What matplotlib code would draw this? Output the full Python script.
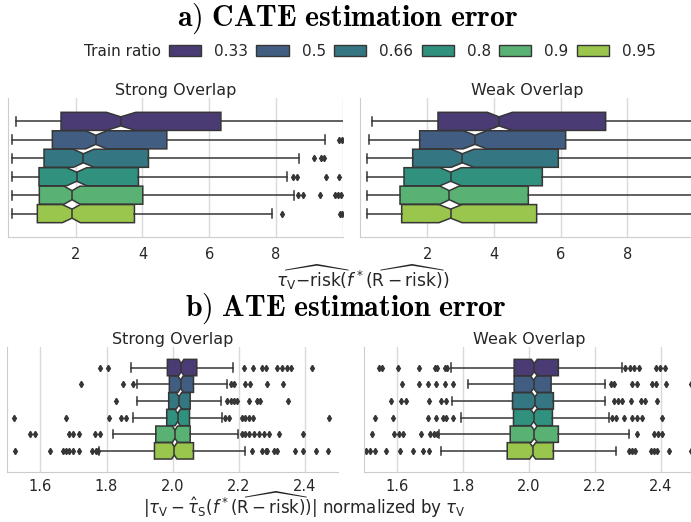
import matplotlib
matplotlib.use("Agg")
import matplotlib.pyplot as plt
from matplotlib.patches import Patch
import seaborn as sns

ratios = ["0.33", "0.5", "0.66", "0.8", "0.9", "0.95"]

# a) CATE error, strong overlap
cate_s_q1 = [1.56, 1.30, 1.05, 0.90, 0.91, 0.85]
cate_s_med = [3.35, 2.60, 2.23, 2.03, 1.89, 1.89]
cate_s_q3 = [6.35, 4.73, 4.18, 3.88, 4.01, 3.76]
cate_s_lo = [0.20, 0.10, 0.10, 0.10, 0.10, 0.08]
cate_s_hi = [12.5, 9.46, 8.70, 8.33, 8.53, 7.88]
cate_s_cilo = [2.92, 2.30, 1.93, 1.73, 1.65, 1.60]
cate_s_cihi = [3.80, 2.93, 2.55, 2.33, 2.13, 2.14]
cate_s_fliers = [[], [9.90, 9.98], [9.15, 9.35, 9.43],
                 [8.51, 8.63, 9.51, 9.88], [8.67, 8.82, 9.33, 9.76, 9.86, 9.96],
                 [8.18, 9.91, 9.98]]

# a) CATE error, weak overlap
cate_w_q1 = [2.32, 1.77, 1.56, 1.30, 1.18, 1.23]
cate_w_med = [4.15, 3.43, 3.05, 2.70, 2.66, 2.70]
cate_w_q3 = [7.35, 6.15, 5.93, 5.45, 5.03, 5.28]
cate_w_lo = [0.33, 0.25, 0.18, 0.18, 0.18, 0.18]
cate_w_hi = [13.5, 12.8, 12.5, 12.0, 11.5, 12.0]
cate_w_cilo = [3.80, 3.08, 2.72, 2.38, 2.38, 2.35]
cate_w_cihi = [4.55, 3.78, 3.40, 3.02, 2.95, 3.04]
cate_w_fliers = [[], [], [], [], [], []]

# b) ATE error, strong overlap
ate_s_q1 = [1.984, 1.990, 1.988, 1.982, 1.949, 1.945]
ate_s_med = [2.026, 2.024, 2.019, 2.015, 2.007, 2.005]
ate_s_q3 = [2.073, 2.063, 2.053, 2.051, 2.053, 2.063]
ate_s_lo = [1.875, 1.893, 1.892, 1.880, 1.819, 1.777]
ate_s_hi = [2.183, 2.164, 2.146, 2.150, 2.197, 2.220]
ate_s_cilo = [2.018, 2.016, 2.011, 2.007, 1.999, 1.997]
ate_s_cihi = [2.034, 2.032, 2.027, 2.023, 2.015, 2.013]
ate_s_fliers = [
    [1.779, 1.804, 2.215, 2.243, 2.271, 2.283, 2.317, 2.332, 2.347, 2.357, 2.420],
    [1.723, 1.850, 1.880, 2.175, 2.185, 2.220, 2.233, 2.286, 2.335],
    [1.828, 2.164, 2.175, 2.185, 2.195, 2.230, 2.256, 2.264, 2.349],
    [1.520, 1.677, 1.809, 1.845, 1.860, 2.159, 2.169, 2.210, 2.220, 2.230,
     2.243, 2.474],
    [1.568, 1.584, 1.688, 1.700, 1.718, 1.764, 1.779, 2.210, 2.220, 2.230,
     2.246, 2.261, 2.276, 2.291, 2.322, 2.393],
    [1.522, 1.629, 1.667, 1.677, 1.688, 1.698, 1.718, 1.756, 1.768, 1.774,
     2.240, 2.271, 2.281, 2.286, 2.306, 2.317, 2.369, 2.393, 2.433, 2.471],
]

# b) ATE error, weak overlap
ate_w_q1 = [1.955, 1.955, 1.950, 1.953, 1.943, 1.934]
ate_w_med = [2.016, 2.014, 2.018, 2.014, 2.016, 2.011]
ate_w_q3 = [2.089, 2.067, 2.074, 2.071, 2.089, 2.074]
ate_w_lo = [1.763, 1.815, 1.768, 1.795, 1.726, 1.734]
ate_w_hi = [2.282, 2.229, 2.229, 2.241, 2.302, 2.265]
ate_w_cilo = [2.007, 2.005, 2.009, 2.005, 2.007, 2.002]
ate_w_cihi = [2.025, 2.023, 2.027, 2.023, 2.025, 2.020]
ate_w_fliers = [
    [1.544, 1.554, 1.602, 1.668, 1.714, 1.721, 1.744, 1.751, 2.292, 2.305,
     2.318, 2.333, 2.384, 2.397, 2.411],
    [1.615, 1.668, 1.694, 1.719, 1.744, 1.770, 2.249, 2.259, 2.313, 2.326,
     2.373, 2.384, 2.414, 2.490],
    [1.582, 1.613, 1.628, 1.697, 1.734, 1.749, 2.257, 2.270, 2.282, 2.309,
     2.338, 2.350, 2.387],
    [1.534, 1.589, 1.694, 1.719, 1.739, 1.747, 1.770, 2.252, 2.265, 2.287,
     2.313, 2.328, 2.343, 2.404],
    [1.524, 1.592, 1.605, 1.619, 1.673, 1.699, 1.711, 1.721, 2.328, 2.378,
     2.391, 2.404],
    [1.506, 1.518, 1.534, 1.566, 1.610, 1.649, 1.680, 1.696, 2.302, 2.312,
     2.322, 2.370, 2.380, 2.389, 2.425, 2.492],
]

W, H = 691, 522
TXT = "#262626"
GRID = "#dadada"

colors = sns.color_palette("viridis", len(ratios), desat=0.75)
EDGE = "#363636"


def px_rect(l, t, r, b):
    return [l / W, 1 - b / H, (r - l) / W, (b - t) / H]


def draw_panel(ax, q1, med, q3, lo, hi, cilo, cihi, fliers, title, pad):
    n = len(q1)
    w = 0.8 / n
    pos = [-0.4 + w * (i + 0.5) for i in range(n)]
    stats = [dict(q1=q1[i], med=med[i], q3=q3[i], whislo=lo[i], whishi=hi[i],
                  cilo=cilo[i], cihi=cihi[i], fliers=fliers[i]) for i in range(n)]
    lw = 1.1
    bp = ax.bxp(stats, positions=pos, widths=w * 0.98, orientation="horizontal",
                shownotches=True, patch_artist=True, manage_ticks=False,
                boxprops=dict(edgecolor=EDGE, linewidth=lw),
                whiskerprops=dict(color=EDGE, linewidth=lw),
                capprops=dict(color=EDGE, linewidth=lw),
                medianprops=dict(color=EDGE, linewidth=lw),
                flierprops=dict(marker="d", markerfacecolor=EDGE,
                                markeredgecolor=EDGE, markersize=3.2,
                                linestyle="none"))
    for box, c in zip(bp["boxes"], colors):
        box.set_facecolor(c)
    ax.set_ylim(0.5, -0.5)
    ax.set_yticks([])
    ax.grid(axis="x", color=GRID, linewidth=1)
    ax.set_axisbelow(True)
    for s in ("top", "right"):
        ax.spines[s].set_visible(False)
    for s in ("left", "bottom"):
        ax.spines[s].set_color("#cccccc")
    ax.tick_params(axis="x", length=0, pad=pad, labelsize=10.5, labelcolor=TXT)
    ax.set_title(title, fontsize=11.5, color=TXT, pad=2)


fig = plt.figure(figsize=(W / 100, H / 100), dpi=100)

ax1 = fig.add_axes(px_rect(8.3, 98.3, 342.7, 236.7))
ax2 = fig.add_axes(px_rect(360, 98.3, 694, 236.7))
ax3 = fig.add_axes(px_rect(7.3, 346.7, 338, 471.7))
ax4 = fig.add_axes(px_rect(364, 346.7, 694, 471.7))

draw_panel(ax1, cate_s_q1, cate_s_med, cate_s_q3, cate_s_lo, cate_s_hi,
           cate_s_cilo, cate_s_cihi, cate_s_fliers, "Strong Overlap", 7.5)
draw_panel(ax2, cate_w_q1, cate_w_med, cate_w_q3, cate_w_lo, cate_w_hi,
           cate_w_cilo, cate_w_cihi, cate_w_fliers, "Weak Overlap", 7.5)
draw_panel(ax3, ate_s_q1, ate_s_med, ate_s_q3, ate_s_lo, ate_s_hi,
           ate_s_cilo, ate_s_cihi, ate_s_fliers, "Strong Overlap", 5)
draw_panel(ax4, ate_w_q1, ate_w_med, ate_w_q3, ate_w_lo, ate_w_hi,
           ate_w_cilo, ate_w_cihi, ate_w_fliers, "Weak Overlap", 5)

for ax in (ax1, ax2):
    ax.set_xlim(-0.02, 10)
    ax.set_xticks([2, 4, 6, 8, 10])
    ax.set_xticklabels(["2", "4", "6", "8", ""])
for ax in (ax3, ax4):
    ax.set_xlim(1.5, 2.5)
    ax.set_xticks([1.6, 1.8, 2.0, 2.2, 2.4])

# headings
fig.text(348 / W, 1 - 25.5 / H, r"$\mathbf{a)\ CATE\ estimation\ error}$",
         ha="center", va="baseline", fontsize=21.5, color="black",
         math_fontfamily="cm")
fig.text(346 / W, 1 - 316 / H, r"$\mathbf{b)\ ATE\ estimation\ error}$",
         ha="center", va="baseline", fontsize=21.5, color="black",
         math_fontfamily="cm")

# legend
fig.text(160.7 / W, 1 - 51 / H, "Train ratio", ha="right", va="center",
         fontsize=11, color=TXT)
handles = [Patch(facecolor=c, edgecolor=EDGE, linewidth=1) for c in colors]
fig.legend(handles, ratios, loc="center left", bbox_to_anchor=(169 / W, 1 - 51 / H),
           ncol=len(ratios), frameon=False, fontsize=11, borderpad=0,
           borderaxespad=0, handlelength=2.1, handleheight=0.75,
           handletextpad=0.85, columnspacing=0.55, labelcolor=TXT)

# x labels
fig.text(363 / W, 1 - 292 / H,
         r"$\widehat{\tau_{\mathrm{V}}\mathrm{-risk}}(f^*(\widehat{\mathrm{R}-\mathrm{risk}}))$",
         ha="center", va="bottom", fontsize=12.3, color=TXT,
         math_fontfamily="dejavusans")
fig.text(304 / W, 1 - 520 / H,
         r"$|\tau_{\mathrm{V}} - \hat{\tau}_{\mathrm{S}}(f^*(\widehat{\mathrm{R}-\mathrm{risk}}))|$"
         r" normalized by $\tau_{\mathrm{V}}$",
         ha="center", va="bottom", fontsize=12, color=TXT,
         math_fontfamily="dejavusans")

fig.savefig("out.png", dpi=100)
